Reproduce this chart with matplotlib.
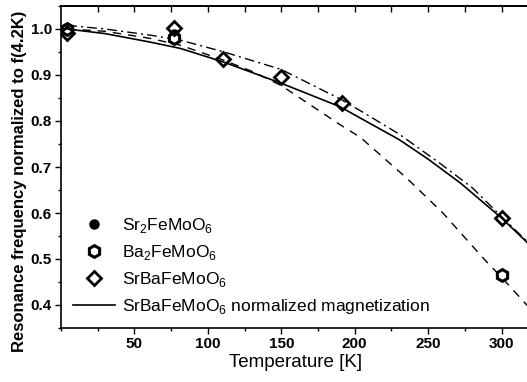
import matplotlib
matplotlib.use('Agg')
import matplotlib.pyplot as plt
from matplotlib.ticker import MultipleLocator

plt.rcParams['font.family'] = ['Liberation Sans', 'DejaVu Sans']
plt.rcParams['mathtext.fontset'] = 'custom'
plt.rcParams['mathtext.rm'] = 'Liberation Sans'

# measured points
t_sr2 = [4.2, 77]
f_sr2 = [1.0, 0.99]
t_ba2 = [4.2, 77, 300]
f_ba2 = [1.0, 0.98, 0.465]
t_srba = [4.2, 77, 110, 150, 191, 300]
f_srba = [0.991, 1.002, 0.934, 0.895, 0.840, 0.589]

# normalized magnetization curve (solid)
t_mag = [4.2, 30, 60, 81, 110, 150, 190, 204, 230, 250, 272, 300, 320]
f_mag = [1.0, 0.99, 0.972, 0.958, 0.929, 0.882, 0.831, 0.806, 0.76, 0.717, 0.665, 0.589, 0.528]

# dash-dot guide
t_dd = [4.2, 30, 60, 81, 110, 150, 190, 204, 230, 258, 280, 300, 320]
f_dd = [1.008, 1.0, 0.987, 0.976, 0.951, 0.912, 0.848, 0.822, 0.772, 0.708, 0.655, 0.592, 0.53]

# dashed guide
t_dash = [4.2, 30, 60, 81, 110, 130, 150, 190, 204, 236, 260, 288, 300, 320]
f_dash = [1.0, 0.995, 0.98, 0.965, 0.933, 0.908, 0.877, 0.792, 0.764, 0.674, 0.60, 0.50, 0.46, 0.39]

fig = plt.figure(figsize=(5.27, 3.82), dpi=100)
ax = fig.add_axes([61/527, 54/382, 470/527, 322/382])

ax.plot(t_dash, f_dash, color='black', lw=1.0, ls=(0, (6, 5)))
ax.plot(t_dd, f_dd, color='black', lw=1.0, ls=(0, (7, 3, 1.5, 3)))
ax.plot(t_sr2, f_sr2, 'o', color='black', ms=6.5, label='Sr$_2$FeMoO$_6$')
ax.plot(t_ba2, f_ba2, 'h', mfc='white', mec='black', mew=2.2, ms=8.5, label='Ba$_2$FeMoO$_6$')
ax.plot(t_srba, f_srba, 'D', mfc='none', mec='black', mew=2.0, ms=7, label='SrBaFeMoO$_6$')
ax.plot(t_mag, f_mag, color='black', lw=1.2, label='SrBaFeMoO$_6$ normalized magnetization')

ax.set_xlim(0, 320)
ax.set_ylim(0.35, 1.05)
ax.xaxis.set_minor_locator(MultipleLocator(25))
ax.yaxis.set_minor_locator(MultipleLocator(0.05))
ax.set_xticks([50, 100, 150, 200, 250, 300])
ax.set_yticks([0.4, 0.5, 0.6, 0.7, 0.8, 0.9, 1.0])
ax.tick_params(axis='both', which='both', direction='out', labelsize=11, pad=2)
ax.tick_params(which='major', length=4.5, width=1)
ax.tick_params(which='minor', length=2.5, width=1)
for lab in ax.get_xticklabels() + ax.get_yticklabels():
    lab.set_fontweight('bold')
for sp in ax.spines.values():
    sp.set_linewidth(1.2)

# top axis: inward ticks, no labels
top = ax.secondary_xaxis('top')
top.set_xticks([25, 50, 75, 100, 125, 150, 175, 200, 225, 250, 275, 300])
top.tick_params(direction='in', length=4.5, width=1, labeltop=False)
top.spines['top'].set_linewidth(1.2)

ax.set_xlabel('Temperature [K]', fontsize=13.5, labelpad=2)
ax.set_ylabel('Resonance frequency normalized to f(4.2K)', fontsize=12, fontweight='bold')
ax.yaxis.set_label_coords(-0.072, 0.455)

ax.legend(loc='lower left', bbox_to_anchor=(0.0, 0.0), frameon=False, fontsize=12.5,
          handlelength=2.4, handletextpad=0.4, labelspacing=0.45, borderaxespad=0.3)

fig.savefig('out.png', dpi=100)
